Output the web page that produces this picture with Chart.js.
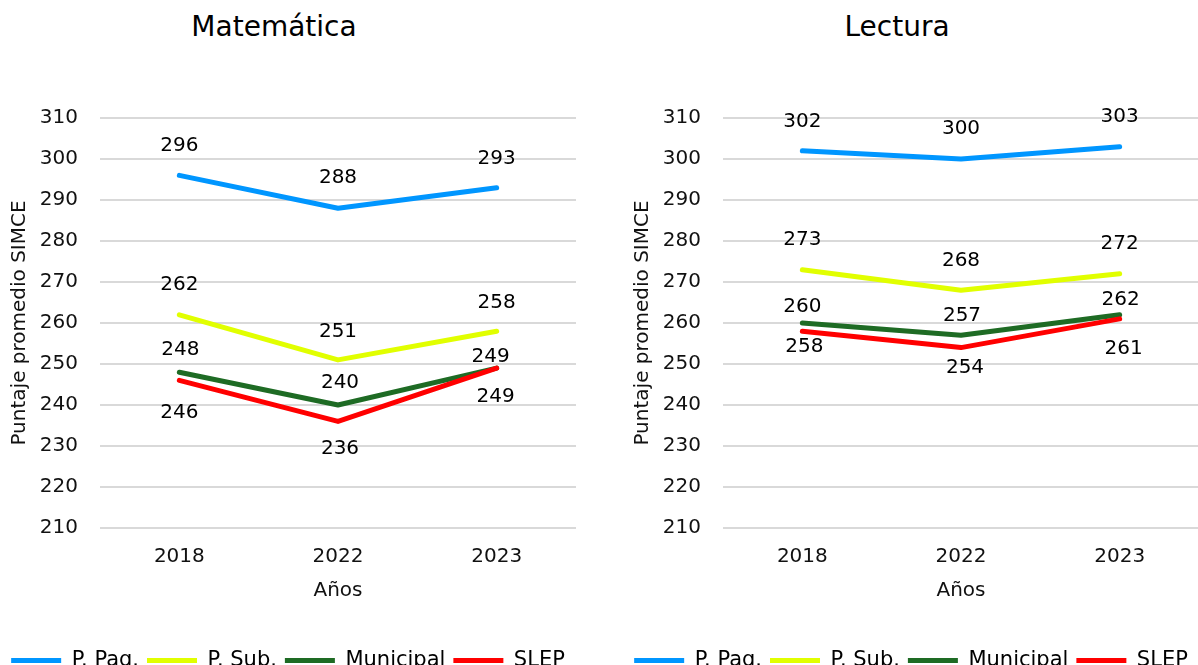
<!DOCTYPE html>
<html>
<head>
<meta charset="utf-8">
<script src="https://cdn.jsdelivr.net/npm/chart.js@4"></script>
<style>
  html, body { margin: 0; padding: 0; background: #fff; width: 1198px; height: 665px; overflow: hidden; }
  .panel { position: absolute; top: 0; width: 600px; height: 690px; }
  .panel h2 { position: absolute; top: 10px; left: 0; width: 548px; margin: 0; text-align: center;
              font: normal 28px/34px "DejaVu Sans", Verdana, sans-serif; color: #000; }
  .panel canvas { position: absolute; top: 0; left: 0; }
</style>
</head>
<body>
<div class="panel" style="left:0">
  <h2>Matemática</h2>
  <canvas id="mathChart" width="600" height="690"></canvas>
</div>
<div class="panel" style="left:623px">
  <h2>Lectura</h2>
  <canvas id="readChart" width="600" height="690"></canvas>
</div>
<script>
// Data
const years = ['2018', '2022', '2023'];
const seriesNames = ['P. Pag.', 'P. Sub.', 'Municipal', 'SLEP'];
const seriesColors = ['#0096ff', '#e1ff00', '#1e6b24', '#ff0000'];

const mathPag = [296, 288, 293];
const mathSub = [262, 251, 258];
const mathMun = [248, 240, 249];
const mathSlep = [246, 236, 249];

const readPag = [302, 300, 303];
const readSub = [273, 268, 272];
const readMun = [260, 257, 262];
const readSlep = [258, 254, 261];

const yMin = 210, yMax = 310, yStep = 10;

// label placement (dx, dy from the point), per series and year
const mathLabelPos = [
  [[0, -30], [0, -30], [0, -29]],
  [[0, -30], [0, -28], [0, -28]],
  [[1, -22], [2, -22], [-6, -11]],
  [[0, 32], [2, 27], [-1, 29]]
];
const readLabelPos = [
  [[0, -29], [0, -30], [0, -30]],
  [[0, -30], [0, -29], [0, -30]],
  [[0, -16], [1, -20], [1, -15]],
  [[2, 16], [4, 20], [4, 30]]
];

const FONT = '"DejaVu Sans", Verdana, sans-serif';
const TXT = '#111';

const pointLabels = {
  id: 'pointLabels',
  afterDatasetsDraw(chart, args, opts) {
    const ctx = chart.ctx;
    ctx.save();
    ctx.font = '20px ' + FONT;
    ctx.fillStyle = '#000';
    ctx.textAlign = 'center';
    ctx.textBaseline = 'middle';
    chart.data.datasets.forEach((ds, i) => {
      const meta = chart.getDatasetMeta(i);
      meta.data.forEach((pt, j) => {
        const [dx, dy] = opts.pos[i][j];
        ctx.fillText(String(Math.round(ds.data[j])), pt.x + dx, pt.y + dy);
      });
    });
    ctx.restore();
  }
};

function makeChart(id, values, labelPos) {
  new Chart(document.getElementById(id), {
    type: 'line',
    data: {
      labels: years,
      datasets: values.map((v, i) => ({
        label: seriesNames[i],
        data: v,
        borderColor: seriesColors[i],
        backgroundColor: seriesColors[i],
        borderWidth: 5,
        borderCapStyle: 'round',
        borderJoinStyle: 'round',
        pointRadius: 0,
        tension: 0,
        fill: false,
        order: values.length - 1 - i
      }))
    },
    options: {
      responsive: false,
      animation: false,
      layout: { padding: { top: 118, right: 24, left: 0, bottom: 9 } },
      plugins: {
        tooltip: { enabled: false },
        legend: {
          position: 'bottom',
          labels: {
            usePointStyle: true,
            pointStyle: 'line',
            pointStyleWidth: 50,
            padding: 8,
            color: '#000',
            font: { size: 21, family: FONT },
            sort: (a, b) => a.datasetIndex - b.datasetIndex
          }
        },
        pointLabels: { pos: labelPos }
      },
      scales: {
        x: {
          offset: true,
          grid: { display: false, drawTicks: false },
          border: { display: false },
          ticks: { color: TXT, font: { size: 20, family: FONT }, padding: 17 },
          title: { display: true, text: 'Años', color: TXT, font: { size: 20, family: FONT }, padding: { top: 10, bottom: 39 } },
          afterFit(scale) { scale.height = 114; }
        },
        y: {
          min: yMin,
          max: yMax,
          ticks: { stepSize: yStep, color: TXT, font: { size: 20, family: FONT }, padding: 22 },
          grid: { color: '#d9d9d9', lineWidth: 2, drawTicks: false },
          border: { display: false },
          title: { display: true, text: 'Puntaje promedio SIMCE', color: TXT, font: { size: 20, family: FONT }, padding: { top: 8, bottom: 0 } },
          afterFit(scale) { scale.width = 100; }
        }
      }
    },
    plugins: [pointLabels]
  });
}

makeChart('mathChart', [mathPag, mathSub, mathMun, mathSlep], mathLabelPos);
makeChart('readChart', [readPag, readSub, readMun, readSlep], readLabelPos);
</script>
</body>
</html>
